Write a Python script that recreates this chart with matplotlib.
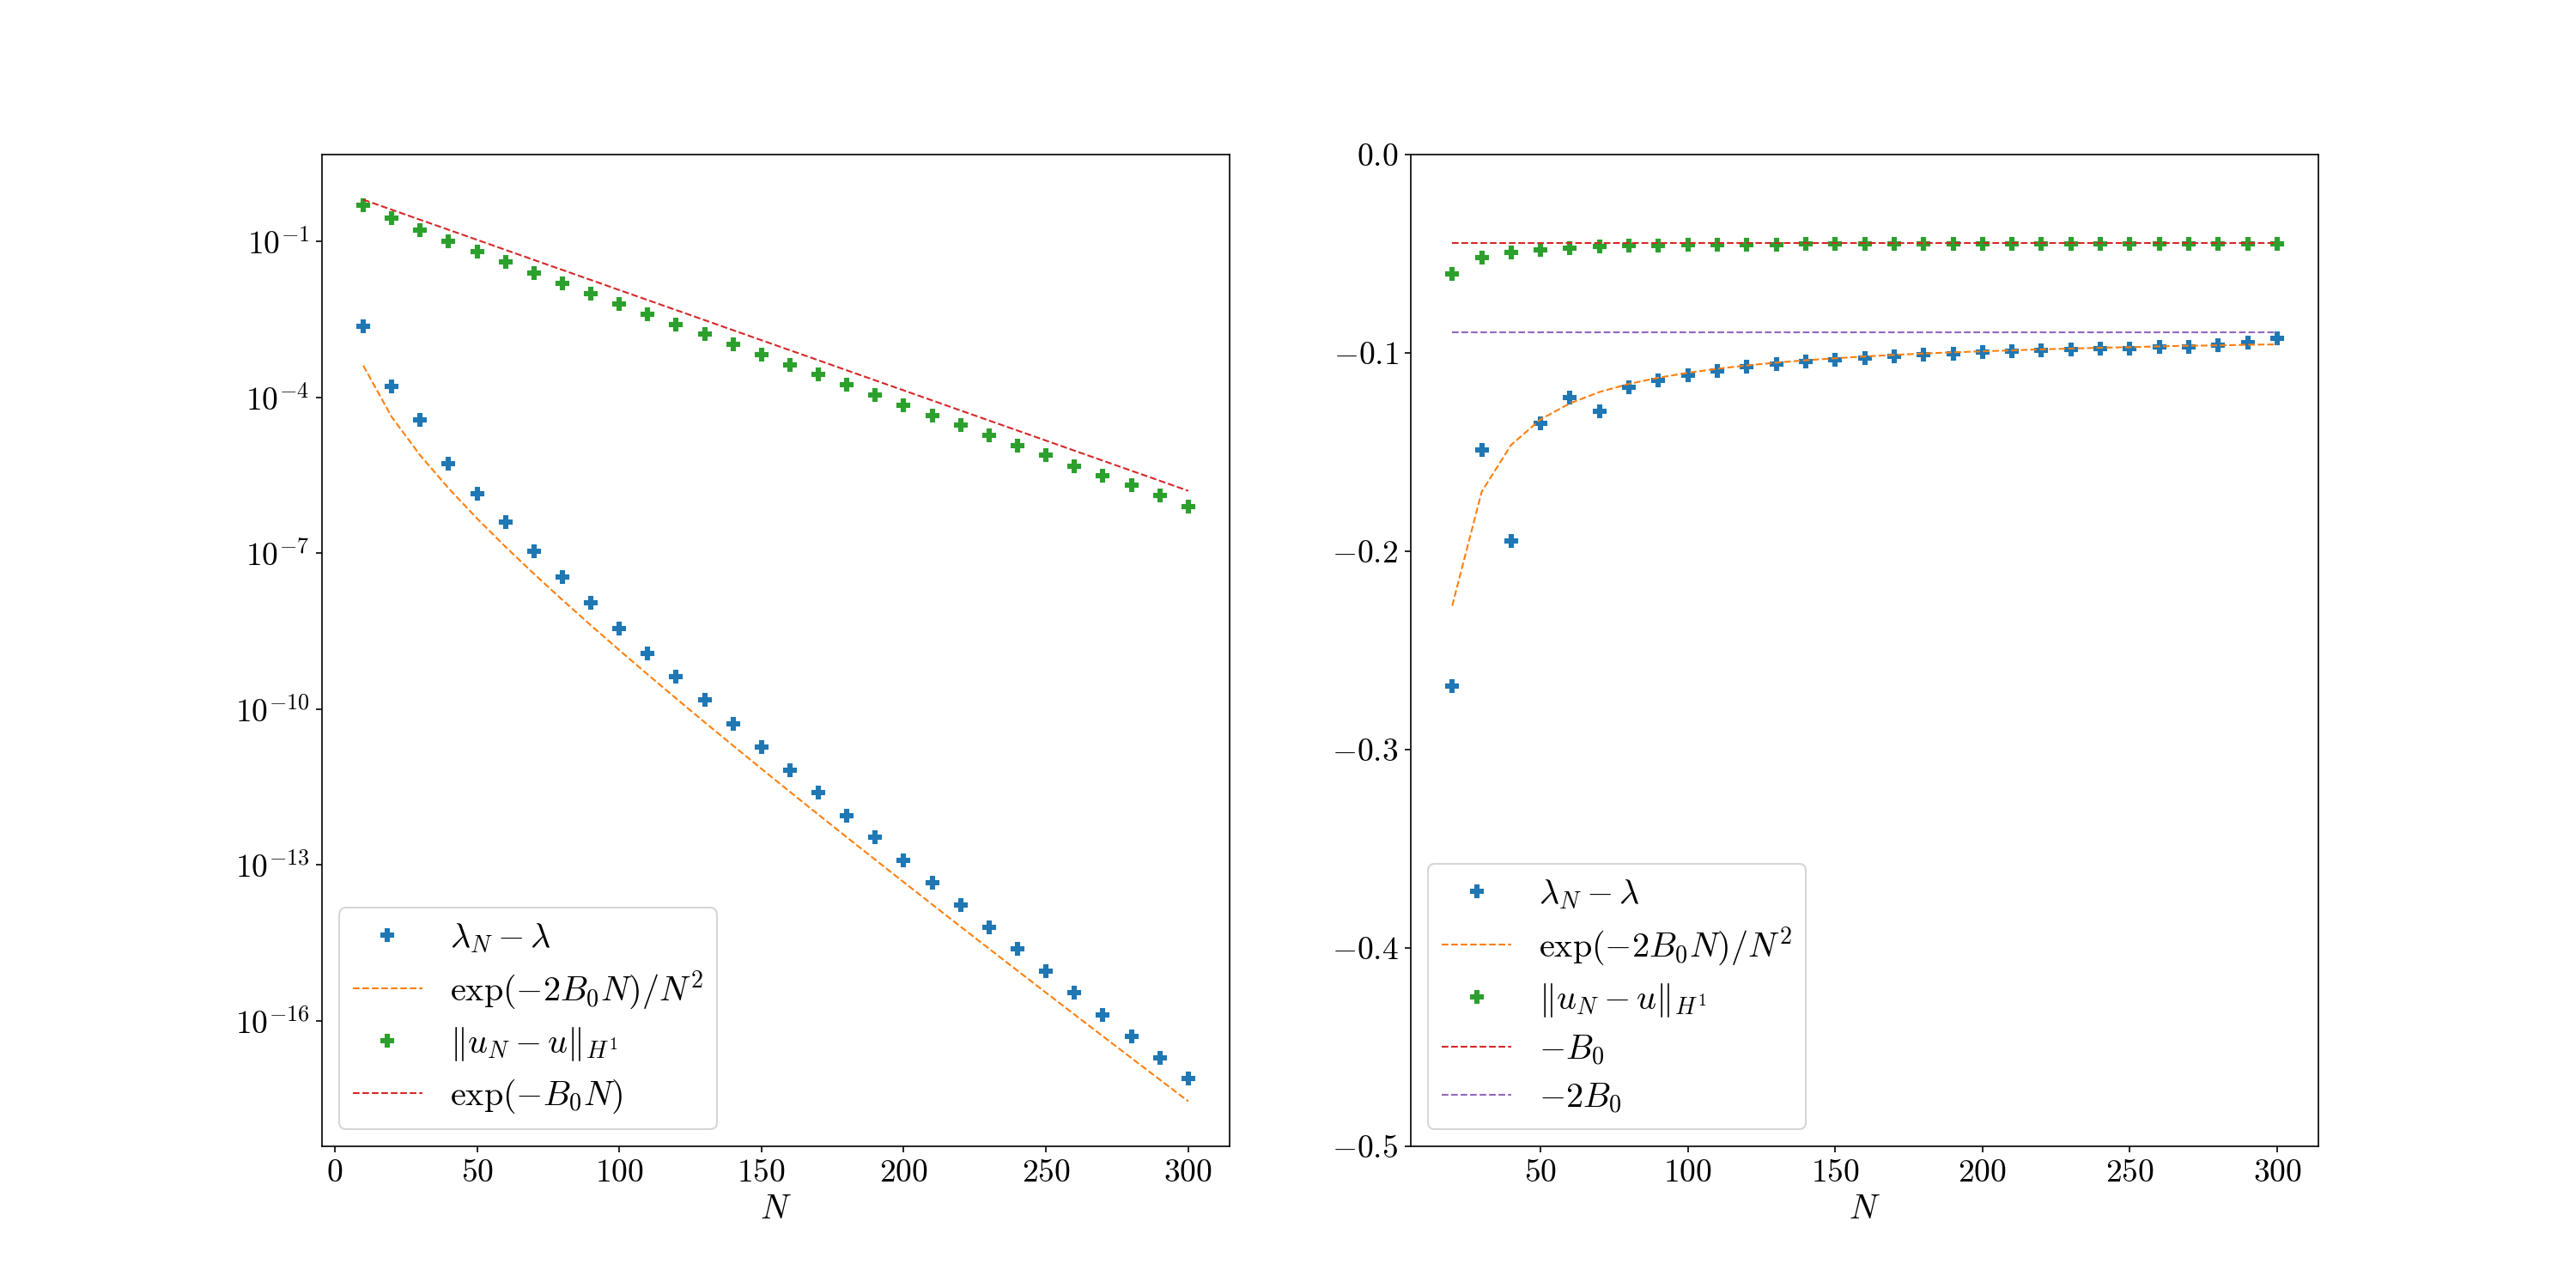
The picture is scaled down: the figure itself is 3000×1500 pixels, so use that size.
import matplotlib
matplotlib.use("Agg")
import matplotlib.pyplot as plt
import numpy as np
from matplotlib.ticker import FuncFormatter, NullLocator

plt.rcParams['mathtext.fontset'] = 'cm'
plt.rcParams['font.family'] = 'serif'
plt.rcParams['font.serif'] = ['cmr10', 'DejaVu Serif']
plt.rcParams['axes.formatter.use_mathtext'] = True
plt.rcParams['xtick.labelsize'] = 18
plt.rcParams['ytick.labelsize'] = 18

# N values
N_left = [10, 20, 30, 40, 50, 60, 70, 80, 90, 100, 110, 120, 130, 140, 150,
          160, 170, 180, 190, 200, 210, 220, 230, 240, 250, 260, 270, 280, 290, 300]
N_right = N_left[1:]

# left panel, log10 of the values
log_lam_err = [-2.629, -3.788, -4.435, -5.278, -5.861, -6.406, -6.957, -7.464, -7.958, -8.446,
               -8.921, -9.375, -9.818, -10.283, -10.727, -11.170, -11.600, -12.051, -12.471, -12.907,
               -13.339, -13.770, -14.200, -14.613, -15.040, -15.453, -15.883, -16.296, -16.710, -17.106]
log_ref2 = [-3.387, -4.375, -5.114, -5.750, -6.331, -6.875, -7.396, -7.898, -8.387, -8.865,
            -9.334, -9.796, -10.252, -10.703, -11.150, -11.592, -12.031, -12.468, -12.901, -13.332,
            -13.761, -14.188, -14.613, -15.036, -15.459, -15.879, -16.298, -16.716, -17.133, -17.549]
log_u_err = [-0.303, -0.544, -0.772, -0.994, -1.196, -1.399, -1.602, -1.798, -2.001, -2.204,
             -2.400, -2.597, -2.781, -2.977, -3.174, -3.368, -3.564, -3.752, -3.947, -4.147,
             -4.349, -4.537, -4.726, -4.921, -5.116, -5.322, -5.506, -5.694, -5.894, -6.096]
log_ref1 = [-0.193, -0.387, -0.580, -0.773, -0.966, -1.160, -1.353, -1.546, -1.739, -1.933,
            -2.126, -2.319, -2.512, -2.706, -2.899, -3.092, -3.285, -3.479, -3.672, -3.865,
            -4.058, -4.252, -4.445, -4.638, -4.831, -5.025, -5.218, -5.411, -5.604, -5.798]

# right panel, rates
rate_lam = [-0.268, -0.1491, -0.195, -0.1356, -0.1227, -0.1296, -0.1175, -0.1140, -0.1111, -0.1092,
            -0.1071, -0.1056, -0.1043, -0.1033, -0.1025, -0.1017, -0.1010, -0.1004, -0.0996, -0.0991,
            -0.0987, -0.0983, -0.0978, -0.0978, -0.0970, -0.0970, -0.0962, -0.0948, -0.0926]
rate_ref2 = [-0.2275, -0.1700, -0.1464, -0.1335, -0.1254, -0.1197, -0.1156, -0.1125, -0.1100, -0.1080,
             -0.1063, -0.1049, -0.1037, -0.1027, -0.1018, -0.1010, -0.1003, -0.0997, -0.0992, -0.0987,
             -0.0982, -0.0978, -0.0974, -0.0971, -0.0967, -0.0964, -0.0962, -0.0959, -0.0957]
rate_u = [-0.0603, -0.0521, -0.0495, -0.0479, -0.0470, -0.0465, -0.0459, -0.0459, -0.0456, -0.0456,
          -0.0454, -0.0455, -0.0452, -0.0452, -0.0452, -0.0451, -0.0451, -0.0450, -0.0450, -0.0450,
          -0.0450, -0.0450, -0.0450, -0.0450, -0.0450, -0.0450, -0.0450, -0.0450, -0.0451]
minus_B0 = -0.0444
minus_2B0 = -0.0894

lab_lam = r'$\lambda_N - \lambda$'
lab_ref2 = r'$\exp(-2B_0N)/N^2$'
lab_u = r'$\Vert u_N - u\Vert_{H^1}$'

mk = dict(marker='P', ls='none', ms=6.5)
leg = dict(loc='lower left', fontsize=19.3, labelspacing=0.4)

fig, (ax1, ax2) = plt.subplots(1, 2, figsize=(20, 10))

ax1.semilogy(N_left, 10.0 ** np.array(log_lam_err), color='C0', label=lab_lam, **mk)
ax1.semilogy(N_left, 10.0 ** np.array(log_ref2), '--', color='C1', lw=1, label=lab_ref2)
ax1.semilogy(N_left, 10.0 ** np.array(log_u_err), color='C2', label=lab_u, **mk)
ax1.semilogy(N_left, 10.0 ** np.array(log_ref1), '--', color='C3', lw=1, label=r'$\exp(-B_0N)$')
ax1.set_yticks([1e-1, 1e-4, 1e-7, 1e-10, 1e-13, 1e-16])
ax1.yaxis.set_minor_locator(NullLocator())
ax1.set_xlabel(r'$N$', fontsize=19)
ax1.legend(**leg)

ax2.plot(N_right, rate_lam, color='C0', label=lab_lam, **mk)
ax2.plot(N_right, rate_ref2, '--', color='C1', lw=1, label=lab_ref2)
ax2.plot(N_right, rate_u, color='C2', label=lab_u, **mk)
ax2.plot(N_right, [minus_B0] * len(N_right), '--', color='C3', lw=1, label=r'$-B_0$')
ax2.plot(N_right, [minus_2B0] * len(N_right), '--', color='C4', lw=1, label=r'$-2B_0$')
ax2.set_ylim(-0.5, 0)
ax2.set_xlabel(r'$N$', fontsize=19)
ax2.legend(**leg)

fmt1 = FuncFormatter(lambda v, p: r'$%.1f$' % v)
fmt0 = FuncFormatter(lambda v, p: r'$%d$' % v)
ax2.yaxis.set_major_formatter(fmt1)
ax1.xaxis.set_major_formatter(fmt0)
ax2.xaxis.set_major_formatter(fmt0)

plt.savefig('out.png', dpi=150)
